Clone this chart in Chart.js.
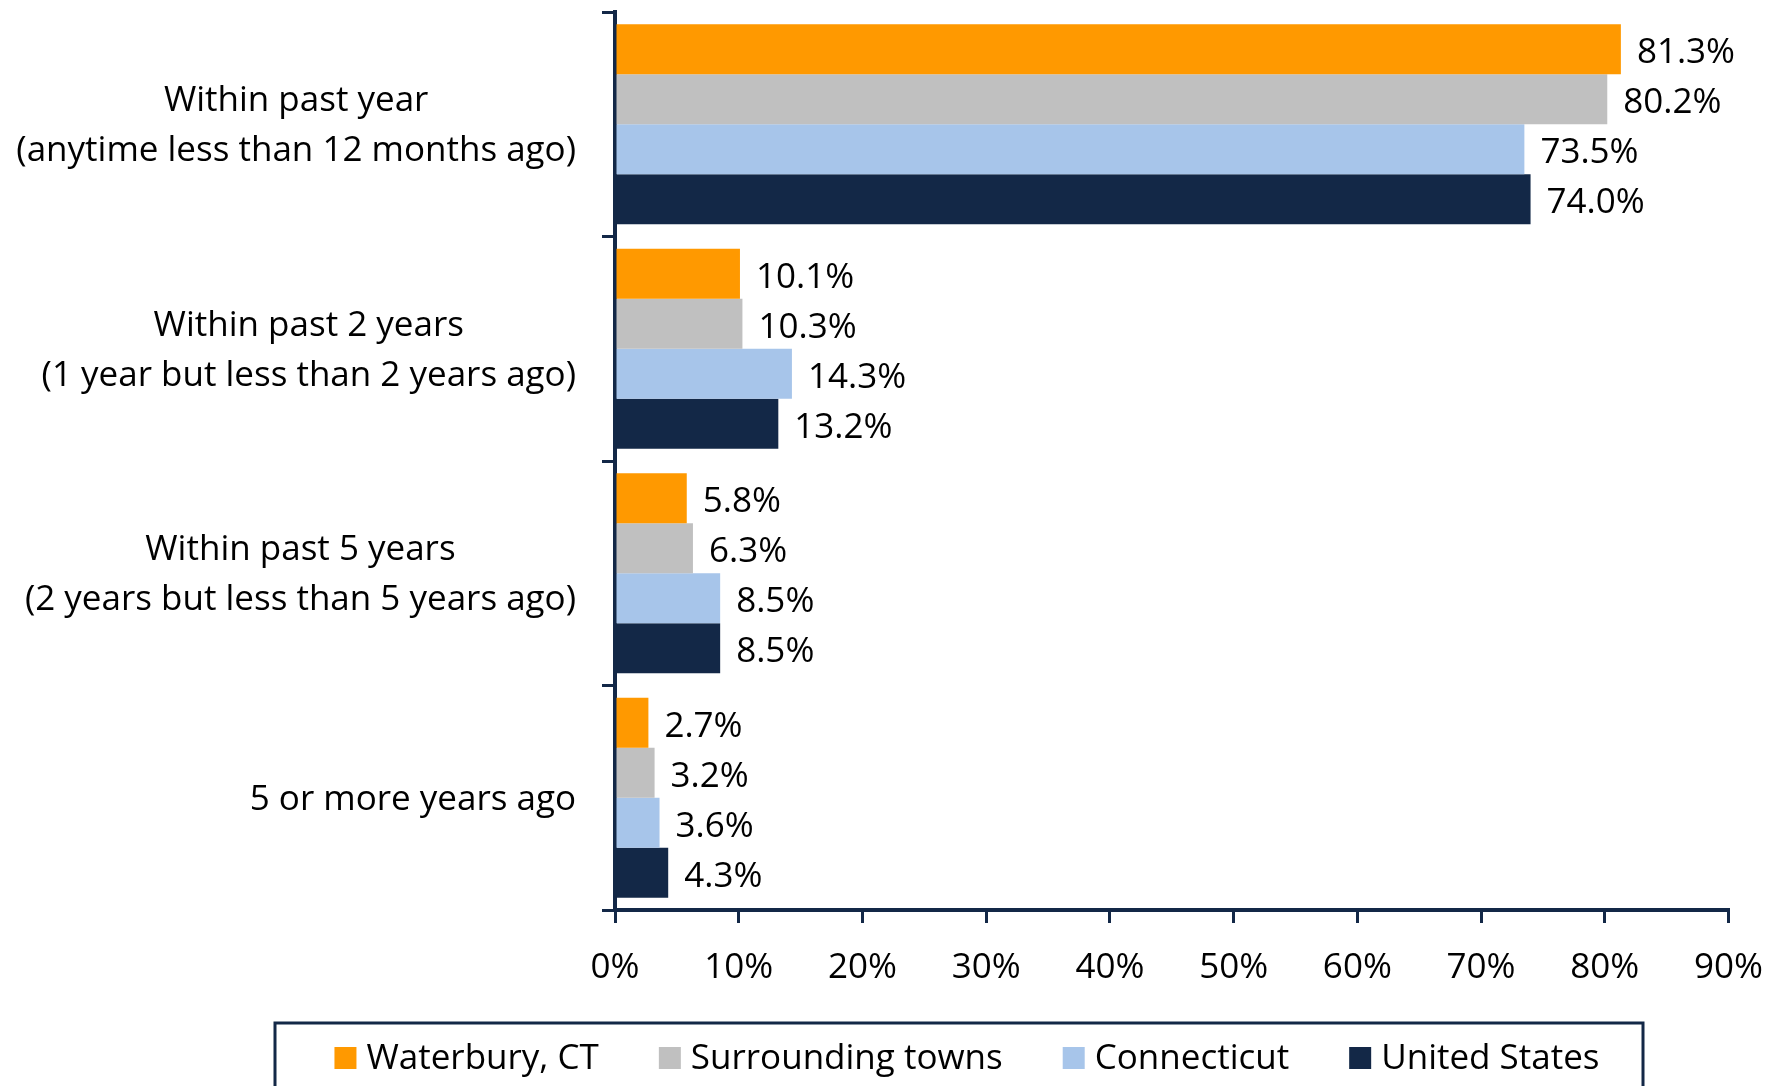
<!DOCTYPE html>
<html>
<head>
<meta charset="utf-8">
<script src="https://cdn.jsdelivr.net/npm/chart.js@4.4.0/dist/chart.umd.min.js"></script>
<style>
  html, body { margin: 0; padding: 0; background: #fff; }
  #wrap { width: 1787px; height: 1086px; }
</style>
</head>
<body>
<div id="wrap"><canvas id="myChart"></canvas></div>
<script>
const categories = [
  ["Within past year", "(anytime less than 12 months ago)"],
  ["Within past 2 years", "(1 year but less than 2 years ago)"],
  ["Within past 5 years", "(2 years but less than 5 years ago)"],
  ["5 or more years ago"]
];
const waterbury = [81.3, 10.1, 5.8, 2.7];
const surroundingTowns = [80.2, 10.3, 6.3, 3.2];
const connecticut = [73.5, 14.3, 8.5, 3.6];
const unitedStates = [74.0, 13.2, 8.5, 4.3];
const xTicks = [0, 10, 20, 30, 40, 50, 60, 70, 80, 90];

const NAVY = '#132847';
const FONT = '"Open Sans", "Noto Sans", sans-serif';
const FS = 35;

// category labels: block right aligned, lines centred inside the block
const yLabelPlugin = {
  id: 'yLabels',
  afterDraw(chart) {
    const ctx = chart.ctx;
    const y = chart.scales.y;
    ctx.save();
    ctx.font = FS + 'px ' + FONT;
    ctx.fillStyle = '#000';
    ctx.textAlign = 'center';
    ctx.textBaseline = 'middle';
    chart.data.labels.forEach((lines, i) => {
      const cy = y.getPixelForTick(i) + 2;
      const w = Math.max(...lines.map(l => ctx.measureText(l).width));
      const cx = y.right - 39 - w / 2;
      lines.forEach((l, j) => {
        ctx.fillText(l, cx, cy + (j - (lines.length - 1) / 2) * 50);
      });
    });
    ctx.restore();
  }
};

// value labels at the end of each bar
const valueLabelPlugin = {
  id: 'valueLabels',
  afterDatasetsDraw(chart) {
    const ctx = chart.ctx;
    ctx.save();
    ctx.font = FS + 'px ' + FONT;
    ctx.fillStyle = '#000';
    ctx.textAlign = 'left';
    ctx.textBaseline = 'middle';
    chart.data.datasets.forEach((ds, di) => {
      chart.getDatasetMeta(di).data.forEach((bar, i) => {
        ctx.fillText(ds.data[i].toFixed(1) + '%', bar.x + 16, bar.y + 4);
      });
    });
    ctx.restore();
  }
};

// boxed legend below the axis
const boxLegendPlugin = {
  id: 'boxLegend',
  afterDraw(chart) {
    const ctx = chart.ctx;
    ctx.save();
    ctx.strokeStyle = NAVY;
    ctx.lineWidth = 3;
    ctx.strokeRect(275, 1023, 1368, 120);
    ctx.font = FS + 'px ' + FONT;
    ctx.textBaseline = 'middle';
    ctx.textAlign = 'left';
    const box = 22, gap = 10, itemGap = 60;
    const items = chart.data.datasets.map(d => ({ text: d.label, color: d.backgroundColor, w: ctx.measureText(d.label).width }));
    const total = items.reduce((s, it) => s + box + gap + it.w, 0) + itemGap * (items.length - 1);
    let x = 967 - total / 2;
    const cy = 1058;
    items.forEach(it => {
      ctx.fillStyle = it.color;
      ctx.fillRect(x, cy - box / 2, box, box);
      ctx.fillStyle = '#000';
      ctx.fillText(it.text, x + box + gap, cy + 1);
      x += box + gap + it.w + itemGap;
    });
    ctx.restore();
  }
};

const ctx1 = document.getElementById('myChart');
new Chart(ctx1, {
  type: 'bar',
  data: {
    labels: categories,
    datasets: [{
      label: 'Waterbury, CT',
      data: waterbury,
      backgroundColor: '#FF9900'
    }, {
      label: 'Surrounding towns',
      data: surroundingTowns,
      backgroundColor: '#C0C0C0'
    }, {
      label: 'Connecticut',
      data: connecticut,
      backgroundColor: '#A7C5EA'
    }, {
      label: 'United States',
      data: unitedStates,
      backgroundColor: NAVY
    }]
  },
  options: {
    indexAxis: 'y',
    responsive: true,
    maintainAspectRatio: false,
    animation: false,
    categoryPercentage: 0.89,
    barPercentage: 1.0,
    layout: { padding: { top: 12, right: 55, left: 0, bottom: 0 } },
    plugins: {
      legend: { display: false },
      tooltip: { enabled: false }
    },
    scales: {
      x: {
        min: 0,
        max: 90,
        afterBuildTicks: (scale) => { scale.ticks = xTicks.map(v => ({ value: v })); },
        afterFit: (scale) => { scale.height = 176; },
        border: { display: true, color: NAVY, width: 4 },
        grid: { drawOnChartArea: false, drawTicks: true, tickLength: 13, color: NAVY, lineWidth: 3 },
        ticks: {
          padding: 24,
          color: '#000',
          font: { family: FONT, size: FS },
          callback: (v) => v + '%'
        }
      },
      y: {
        afterFit: (scale) => { scale.width = 615; },
        border: { display: true, color: NAVY, width: 4 },
        grid: { drawOnChartArea: false, drawTicks: true, tickLength: 13, color: NAVY, lineWidth: 3, offset: true },
        ticks: { display: false }
      }
    }
  },
  plugins: [yLabelPlugin, valueLabelPlugin, boxLegendPlugin]
});
</script>
</body>
</html>
